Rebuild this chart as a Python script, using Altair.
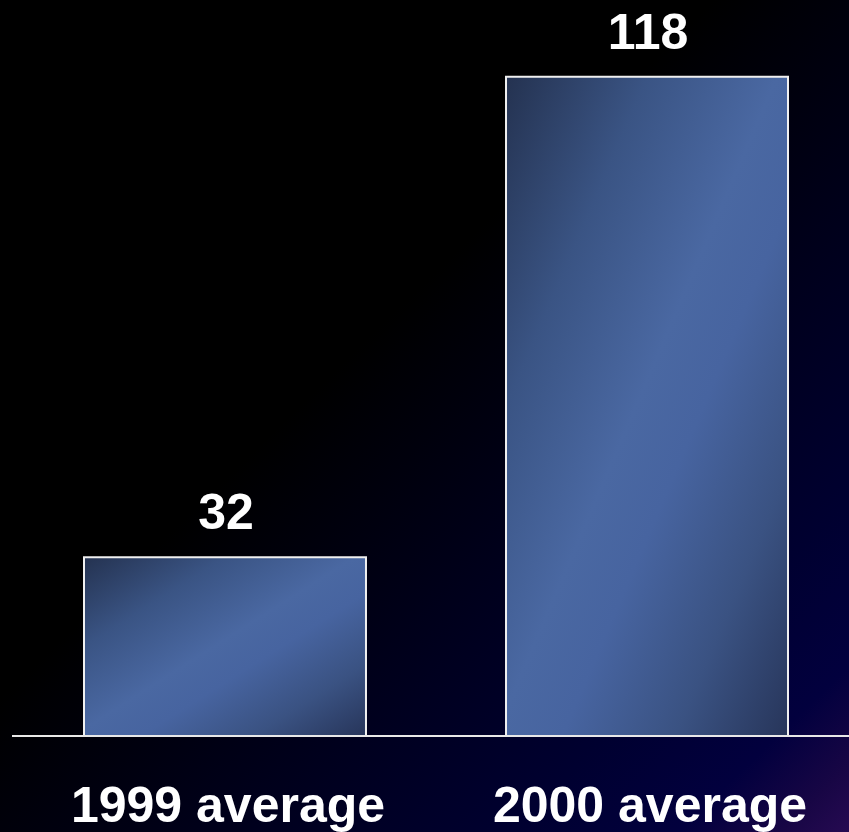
import altair as alt
import pandas as pd

categories = ["1999 average", "2000 average"]
values = [32, 118]

df = pd.DataFrame({"category": categories, "value": values})

W, H = 849, 832
FONT = "Liberation Sans"

bg_gradient = alt.Gradient(
    gradient="linear", x1=0, y1=0, x2=1, y2=1,
    stops=[
        alt.GradientStop(color="#000000", offset=0),
        alt.GradientStop(color="#000000", offset=0.42),
        alt.GradientStop(color="#00001a", offset=0.62),
        alt.GradientStop(color="#000030", offset=0.8),
        alt.GradientStop(color="#02003e", offset=0.9),
        alt.GradientStop(color="#180645", offset=0.96),
        alt.GradientStop(color="#260a52", offset=1),
    ],
)

bar_gradient = alt.Gradient(
    gradient="linear", x1=0, y1=0, x2=1, y2=1,
    stops=[
        alt.GradientStop(color="#243250", offset=0),
        alt.GradientStop(color="#3a5484", offset=0.25),
        alt.GradientStop(color="#4a68a2", offset=0.48),
        alt.GradientStop(color="#4764a0", offset=0.6),
        alt.GradientStop(color="#3a5282", offset=0.8),
        alt.GradientStop(color="#27355a", offset=1),
    ],
)

xscale = alt.Scale(domain=categories, range=[84, 788], paddingInner=0.3318, paddingOuter=0)
yscale = alt.Scale(domain=[0, 130], range=[736, 9.8], nice=False, zero=True)

x = alt.X("category:N", scale=xscale, axis=None, sort=categories)
y = alt.Y("value:Q", scale=yscale, axis=None)

background = alt.Chart(pd.DataFrame({"k": [0]})).mark_rect(
    fill=bg_gradient, strokeWidth=0
).encode(x=alt.value(0), x2=alt.value(W), y=alt.value(0), y2=alt.value(H))

base = alt.Chart(df)

bars = base.mark_bar(fill=bar_gradient, stroke="#f0f0f0", strokeWidth=2).encode(x=x, y=y)

value_labels = base.mark_text(
    font=FONT, fontSize=50, fontWeight="bold", color="white",
    baseline="alphabetic", align="center", dy=-28, dx=1,
).encode(x=x, y=y, text=alt.Text("value:Q"))

cat_labels = base.mark_text(
    font=FONT, fontSize=50, fontWeight="bold", color="white",
    baseline="alphabetic", align="center", dy=86, dx=3,
).encode(x=x, y=alt.datum(0, scale=yscale), text="category:N")

baseline = alt.Chart(pd.DataFrame({"v": [0]})).mark_rule(
    color="#e8e8e8", strokeWidth=2
).encode(x=alt.value(12), x2=alt.value(W), y=alt.Y("v:Q", scale=yscale, axis=None))

chart = alt.layer(background, bars, baseline, value_labels, cat_labels).properties(
    width=W, height=H, padding=0, autosize=alt.AutoSizeParams(type="none")
).configure_view(stroke=None).configure(background="#000000")

chart.save("out.html", embed_options={"renderer": "svg", "actions": False})
